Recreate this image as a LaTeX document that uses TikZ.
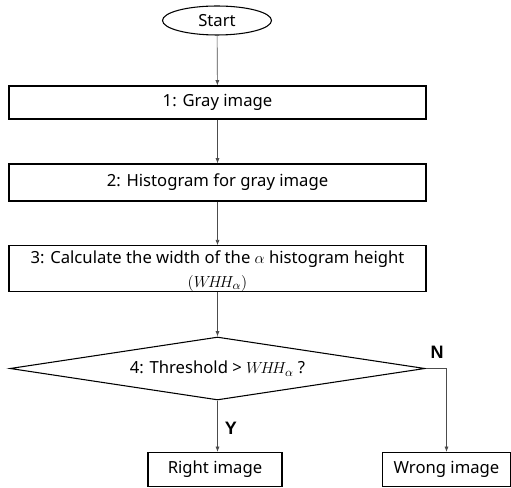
\documentclass[tikz,border=0pt]{standalone}
\usepackage{fontspec}
\setmainfont{Noto Sans}
\newfontfamily\ynfont{Liberation Sans}
\usetikzlibrary{shapes.geometric,arrows.meta}

\tikzset{
  stepbox/.style={draw=black, line width=0.8pt, rectangle, inner sep=0pt, align=center, font=\fontsize{12.5}{18}\selectfont},
  flow/.style={draw=black!70, line width=0.5pt, -{Latex[length=4pt,width=3pt]}},
  yn/.style={font=\fontsize{13.5}{14}\ynfont\bfseries}
}

\begin{document}
\begin{tikzpicture}[x=0.75pt, y=-0.75pt]
  \useasboundingbox (0,0) rectangle (511,488);
  \node[draw, ellipse, line width=0.8pt, minimum width=109*0.75pt, minimum height=29*0.75pt, inner sep=0pt, font=\fontsize{12.5}{14}\selectfont] (start) at (217,20.5) {Start};
  \node[stepbox, minimum width=417*0.75pt, minimum height=33*0.75pt] (gray) at (217.5,102.5) {1: Gray image};
  \node[stepbox, minimum width=417*0.75pt, minimum height=37*0.75pt] (hist) at (217.5,182.5) {2: Histogram for gray image};
  \node[stepbox, minimum width=417*0.75pt, minimum height=43*0.75pt] (calc) at (217.5,268.5) {\rule{0pt}{13pt}3: Calculate the width of the $\alpha$ histogram height\\$(W\!H\!H_{\alpha})$};
  \node[stepbox, diamond, aspect=6.59, minimum width=415*0.75pt, minimum height=63*0.75pt] (thr) at (217.5,368.5) {4: Threshold > $W\!H\!H_{\alpha}$ ?};
  \node[stepbox, minimum width=134*0.75pt, minimum height=34*0.75pt] (right) at (215,469.5) {Right image};
  \node[stepbox, minimum width=128*0.75pt, minimum height=34*0.75pt] (wrong) at (446.5,469.5) {Wrong image};

  % connectors
  \draw[flow] (start) -- (gray);
  \draw[flow] (gray) -- (hist);
  \draw[flow] (hist) -- (calc);
  \draw[flow] (calc) -- (thr);
  \draw[flow] (thr.south) -- (thr.south |- right.north);
  \draw[flow] (thr.east) -| (wrong.north);

  \node[yn] (no) at (437,352) {N};
  \node[yn] (yes) at (231,428) {Y};
\end{tikzpicture}
\end{document}
